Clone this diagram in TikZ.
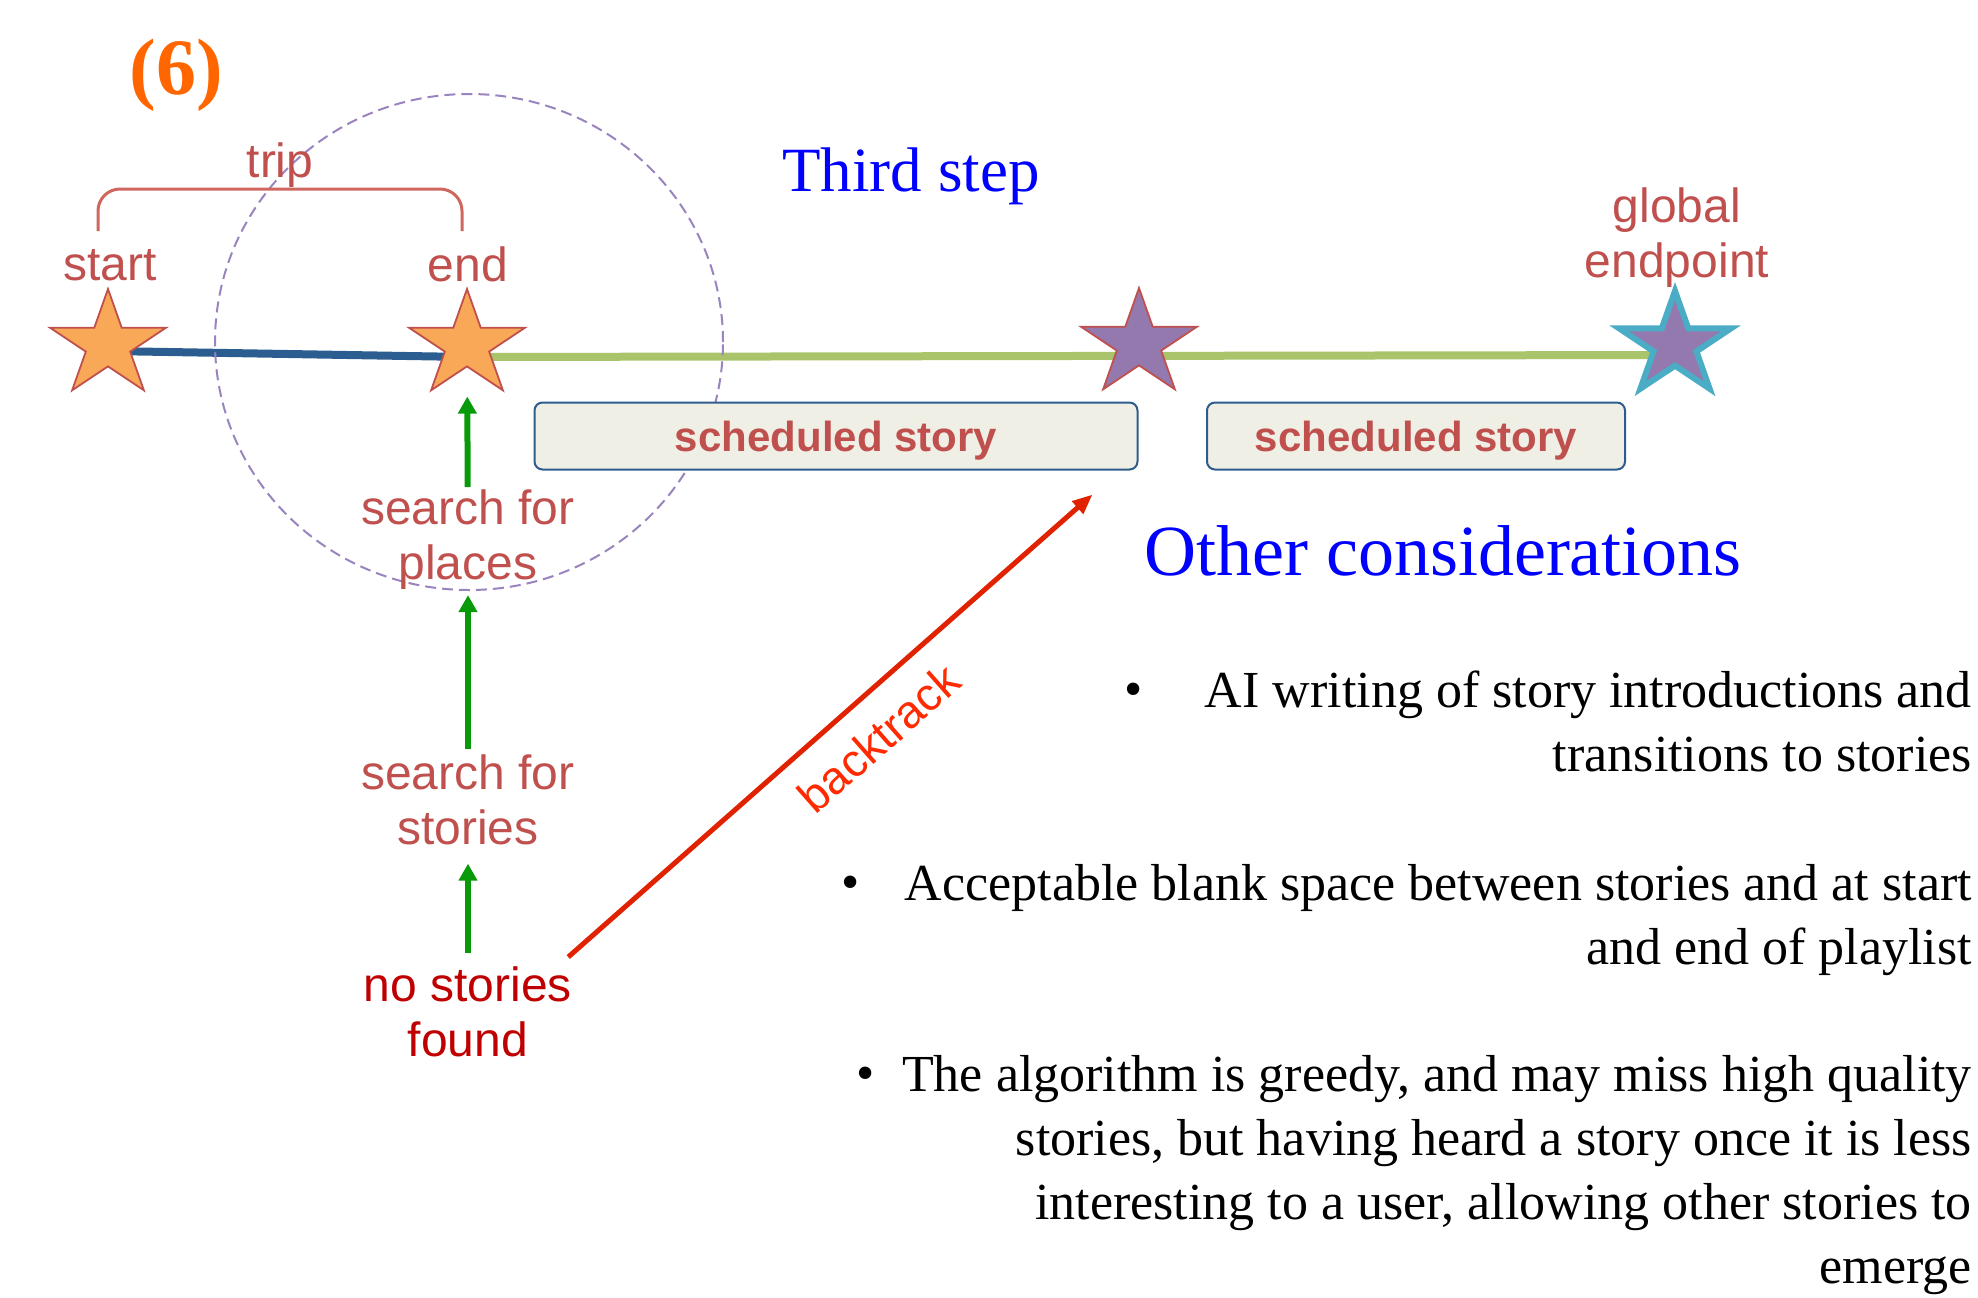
\documentclass[tikz,border=0pt]{standalone}
\usepackage{fontspec}
\setmainfont{Liberation Serif}
\setsansfont{Liberation Sans}
\usepackage{tikz}
\usetikzlibrary{shapes.geometric}
\usetikzlibrary{arrows.meta}
\usetikzlibrary{backgrounds}

\definecolor{lblred}{HTML}{C0504D}
\definecolor{deepred}{HTML}{C00000}
\definecolor{backred}{HTML}{E02200}
\definecolor{backtext}{HTML}{FF2A00}
\definecolor{bracered}{HTML}{D0675F}
\definecolor{orangefill}{HTML}{F9A857}
\definecolor{purplefill}{HTML}{9379AE}
\definecolor{globalcyan}{HTML}{4BACC6}
\definecolor{tripblue}{HTML}{2C5D91}
\definecolor{leggreen}{HTML}{A9C46B}
\definecolor{arrowgreen}{HTML}{089A08}
\definecolor{boxfill}{HTML}{EFEFE6}
\definecolor{boxline}{HTML}{2E5D8D}
\definecolor{ringpurple}{HTML}{9A84BE}
\definecolor{numorange}{HTML}{FF6600}

\tikzset{
  lbl/.style={font=\sffamily\fontsize{48}{55}\selectfont, text=lblred, align=center, inner sep=0pt},
  stopstar/.style={star, star points=5, star point ratio=2.618, minimum size=112pt, inner sep=0pt, line width=1.8pt, draw=lblred},
  orangestop/.style={stopstar, fill=orangefill},
  purplestop/.style={stopstar, fill=purplefill},
  globalstop/.style={stopstar, fill=purplefill, draw=globalcyan, line width=6pt, minimum size=108pt},
  storybox/.style={draw=boxline, line width=2pt, fill=boxfill, rounded corners=8pt, minimum height=67pt,
    font=\sffamily\bfseries\fontsize{42}{50}\selectfont, text=lblred, text depth=0pt},
  searchto/.style={draw=arrowgreen, line width=6pt, -{Triangle[length=17pt,width=18pt]}},
  bullettext/.style={font=\fontsize{52}{64}\selectfont, align=right, inner sep=0pt, anchor=north east},
  bulletdot/.style={font=\fontsize{52}{64}\selectfont, inner sep=0pt, anchor=base},
}

\begin{document}
\begin{tikzpicture}[x=1pt,y=-1pt]
\useasboundingbox (0,0) rectangle (1978,1298);
% headings
\node[font=\bfseries\fontsize{80}{90}\selectfont, text=numorange, anchor=base, inner sep=0pt] (stepno) at (176,94) {(6)};
\node[font=\fontsize{63}{70}\selectfont, text=blue, anchor=base, inner sep=0pt] (thirdstep) at (911,191) {Third step};
\node[font=\fontsize{72}{80}\selectfont, text=blue, anchor=base, inner sep=0pt] (otherhead) at (1443,575) {Other considerations};

% stops on the route (a bit wider than regular stars)
\foreach \stopname/\stopx/\stopy/\stoplook in {startstar/108/345/orangestop, endstar/467/345/orangestop,
    midstar/1139/344/purplestop, globalstar/1675/345/globalstop}
  \path[shift={(\stopx,\stopy)}, xscale=1.09] node[\stoplook, transform shape] (\stopname) at (0,0) {};

\node[lbl, anchor=base] (startlbl) at (110,280) {start};
\node[lbl, anchor=base] (endlbl) at (468,281) {end};
\node[lbl, anchor=base] (triplbl) at (280,177) {trip};
\node[lbl, anchor=north] (globallbl) at (1677,188) {global\\endpoint};

% trip bracket
\draw[bracered, line width=3pt, rounded corners=22pt] (98,231) -- (98,189) -- (462,189) -- (462,231);

% scheduled stories
\node[storybox, minimum width=603pt] (story1) at (836,436) {scheduled story};
\node[storybox, minimum width=418pt] (story2) at (1416,436) {scheduled story};

% search steps
\node[lbl, anchor=north] (placesearch) at (468,490) {search for\\places};
\node[lbl, anchor=north] (storysearch) at (468,755) {search for\\stories};
\node[lbl, anchor=north, text=deepred] (nostories) at (468,967) {no stories\\found};

\draw[searchto, shorten <=14pt, shorten >=18pt] (nostories) -- (storysearch);
\draw[searchto, shorten <=6pt, shorten >=5pt] (storysearch) -- (placesearch);
\draw[searchto, shorten <=3pt, shorten >=29pt] (placesearch) -- (endstar);

\coordinate (backtip) at ([shift={(-46pt,-24pt)}]story1.south east);
\draw[backred, line width=5pt, -{Triangle[length=20pt,width=16pt]}] ([shift={(-4pt,10pt)}]nostories.north east) -- (backtip)
  node[sloped, below=22pt, pos=0.54, font=\sffamily\fontsize{46}{50}\selectfont, text=backtext, inner sep=0pt] (backlbl) {backtrack};

% route legs and search radius
\begin{scope}[on background layer]
  \draw[tripblue, line width=8pt] ([yshift=-6pt]startstar.center) -- ([yshift=-12pt]endstar.center);
  \draw[leggreen, line width=8pt] ([yshift=-12pt]endstar.center) -- ([yshift=-10pt]globalstar.center);
  \draw[ringpurple, line width=2pt, dash pattern=on 11pt off 6pt] ([shift={(2pt,3pt)}]endstar.center) ellipse [x radius=254pt, y radius=248pt];
\end{scope}

% other considerations
\node[bulletdot] (dot1) at (1134,706) {•};
\node[bullettext] (point1) at (1972,671) {AI writing of story introductions and\\transitions to stories};
\node[bulletdot] (dot2) at (851,899) {•};
\node[bullettext] (point2) at (1972,864) {Acceptable blank space between stories and at start\\and end of playlist};
\node[bulletdot] (dot3) at (866,1090) {•};
\node[bullettext] (point3) at (1972,1055) {The algorithm is greedy, and may miss high quality\\stories, but having heard a story once it is less\\interesting to a user, allowing other stories to\\emerge};
\end{tikzpicture}
\end{document}
